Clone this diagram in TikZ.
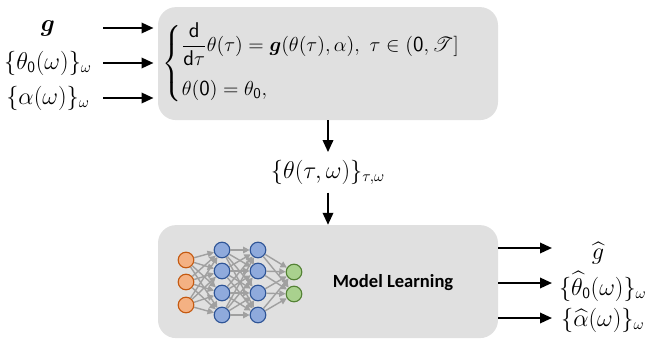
\documentclass[tikz,border=0pt]{standalone}
\usepackage{amsmath,amssymb,mathrsfs,bm}
\usepackage{fontspec}
\newfontfamily\calib{Carlito}
\usetikzlibrary{positioning,calc,arrows.meta}
\definecolor{boxgray}{RGB}{224,224,224}
\definecolor{inorange}{RGB}{244,177,131}
\definecolor{inorangeline}{RGB}{197,90,17}
\definecolor{hidblue}{RGB}{143,170,220}
\definecolor{hidblueline}{RGB}{47,85,151}
\definecolor{outgreen}{RGB}{169,209,142}
\definecolor{outgreenline}{RGB}{84,130,53}
\definecolor{edgegray}{RGB}{160,160,160}

\begin{document}
\begin{tikzpicture}[
		box/.style={rectangle, rounded corners=0.45cm, fill=boxgray, minimum width=8.5cm, minimum height=2.825cm},
		flow/.style={-{Triangle[length=3mm,width=2.6mm]}, line width=1.5pt},
		neuron/.style={circle, draw, line width=0.8pt, minimum size=0.39cm, inner sep=0pt},
		wire/.style={-{Triangle[length=1.6mm,width=1.6mm]}, edgegray, line width=1pt},
		font=\fontsize{16}{19}\selectfont]
	\useasboundingbox (0,0) rectangle (16.225,-8.575);
	% ODE block
	\node[box] (ode) at (8.2,-1.59) {};
	\node[anchor=west, inner sep=0pt, font=\fontsize{15.2}{18}\selectfont] (eq) at ($(ode.west)+(0.12,0)$)
		{$\begin{cases}
			\dfrac{\mathsf{d}}{\mathsf{d}\tau}\theta(\tau) = \bm{g}(\theta(\tau),\alpha),\ \tau\in(\mathsf{0},\mathscr{T}]\\[0.35cm]
			\theta(\mathsf{0}) = \theta_{\mathsf{0}},
		\end{cases}$};
	% inputs
	\coordinate (start) at (2.575,0);
	\node (gin) at (1.2,-0.7) {$\bm{g}$};
	\node (thin) at (1.2,-1.575) {$\{\theta_{\mathsf{0}}(\omega)\}_\omega$};
	\node (alin) at (1.2,-2.45) {$\{\alpha(\omega)\}_\omega$};
	\foreach \n in {gin,thin,alin}
		\draw[flow, shorten >=3pt] (\n -| start) -- (\n -| ode.west);
	% trajectories
	\node[minimum height=1cm] (traj) at (8.2,-4.31) {$\{\theta(\tau,\omega)\}_{\tau,\omega}$};
	\draw[flow] (ode) -- (traj);
	% learning block
	\node[box] (learn) at (8.2,-7.04) {};
	\draw[flow] (traj) -- (learn);
	\node[font=\calib\bfseries\fontsize{13.2}{15}\selectfont] (ml) at (9.825,-7.075) {Model Learning};
	% network
	\foreach \i/\y in {1/-6.5,2/-7.05,3/-7.625}
		\node[neuron, fill=inorange, draw=inorangeline] (inp\i) at (4.65,\y) {};
	\foreach \i/\y in {1/-6.25,2/-6.775,3/-7.325,4/-7.875} {
		\node[neuron, fill=hidblue, draw=hidblueline] (hida\i) at (5.55,\y) {};
		\node[neuron, fill=hidblue, draw=hidblueline] (hidb\i) at (6.45,\y) {};
	}
	\foreach \i/\y in {1/-6.8,2/-7.35}
		\node[neuron, fill=outgreen, draw=outgreenline] (outp\i) at (7.35,\y) {};
	\foreach \a in {1,2,3}
		\foreach \b in {1,...,4}
			\draw[wire] (inp\a) -- (hida\b);
	\foreach \a in {1,...,4}
		\foreach \b in {1,...,4}
			\draw[wire] (hida\a) -- (hidb\b);
	\foreach \a in {1,...,4}
		\foreach \b in {1,2}
			\draw[wire] (hidb\a) -- (outp\b);
	% outputs
	\coordinate (r1) at (13.8,-6.2);
	\coordinate (r2) at (13.8,-7.075);
	\coordinate (r3) at (13.8,-7.95);
	\foreach \r in {r1,r2,r3}
		\draw[flow] (\r -| learn.east) -- (\r);
	\node[inner sep=1pt] (gout) at (14.95,-6.33) {$\widehat{g}$};
	\node[inner sep=1pt] (thout) at (15.07,-7.16) {$\{\widehat{\theta}_{\mathsf{0}}(\omega)\}_\omega$};
	\node[inner sep=1pt] (alout) at (15.07,-8.0) {$\{\widehat{\alpha}(\omega)\}_\omega$};
\end{tikzpicture}
\end{document}
